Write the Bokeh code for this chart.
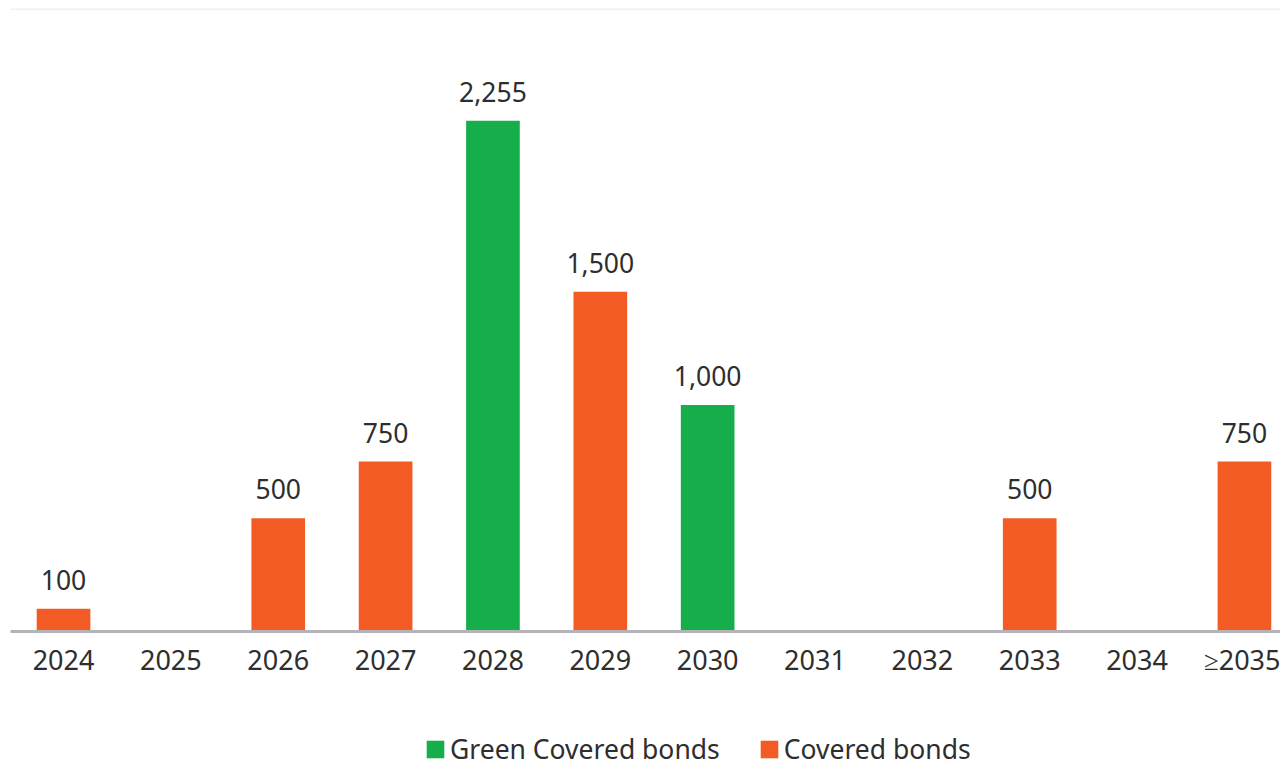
from bokeh.plotting import figure
from bokeh.layouts import column
from bokeh.models import Range1d, FixedTicker, Span, Legend, LegendItem, ColumnDataSource
from bokeh.embed import file_html
from bokeh.resources import INLINE
from bokeh.core.properties import value

categories = ["2024", "2025", "2026", "2027", "2028", "2029", "2030", "2031", "2032", "2033", "2034", "≥2035"]
green_covered = [0, 0, 0, 0, 2255, 0, 1000, 0, 0, 0, 0, 0]
covered = [100, 0, 500, 750, 0, 1500, 0, 0, 0, 500, 0, 750]
series_names = ["Green Covered bonds", "Covered bonds"]

GREEN = "#16AE4B"
ORANGE = "#F25C24"
FONT = "Noto Sans"
TXT = "#2e2e2e"

p = figure(width=1280, height=711, output_backend="svg", toolbar_location=None,
           x_range=Range1d(-0.494, 11.336), y_range=Range1d(0, 2750),
           min_border_left=10, min_border_right=0, min_border_top=8, min_border_bottom=80)

def series(vals):
    xs = [i for i, v in enumerate(vals) if v]
    ys = [v for v in vals if v]
    labels = [f"{v:,}" for v in ys]
    return ColumnDataSource(dict(x=xs, top=ys, label=labels))

src_g = series(green_covered)
src_c = series(covered)

p.vbar(x="x", top="top", width=0.5, source=src_g, fill_color=GREEN, line_color=None)
p.vbar(x="x", top="top", width=0.5, source=src_c, fill_color=ORANGE, line_color=None)

for s in (src_g, src_c):
    p.text(x="x", y="top", text="label", source=s, text_align="center", text_baseline="bottom",
           y_offset=-19, text_font=value(FONT), text_font_size="26.5px", text_color=TXT)

p.xaxis.ticker = FixedTicker(ticks=list(range(len(categories))))
p.xaxis.major_label_overrides = {i: c for i, c in enumerate(categories)}
p.xaxis.major_label_text_font = FONT
p.xaxis.major_label_text_font_size = "27px"
p.xaxis.major_label_text_color = TXT
p.xaxis.major_label_standoff = 3
p.xaxis.major_tick_line_color = None
p.xaxis.minor_tick_line_color = None
p.xaxis.axis_line_color = "#b3b3b8"
p.xaxis.axis_line_width = 3
p.yaxis.visible = False
p.xgrid.visible = False
p.ygrid.visible = False
p.outline_line_color = None

p.add_layout(Span(location=2750, dimension="width", line_color="#f0f0f0", line_width=3))

# legend strip below the chart
lf = figure(width=1280, height=56, output_backend="svg", toolbar_location=None,
            x_range=Range1d(0, 1), y_range=Range1d(0, 1),
            min_border_left=0, min_border_right=0, min_border_top=0, min_border_bottom=0)
lf.axis.visible = False
lf.grid.visible = False
lf.outline_line_color = None
lg = lf.vbar(x=[0.5], top=[0], width=0.1, fill_color=GREEN, line_color=None)
lc = lf.vbar(x=[0.5], top=[0], width=0.1, fill_color=ORANGE, line_color=None)
legend = Legend(items=[LegendItem(label=series_names[0], renderers=[lg]),
                       LegendItem(label=series_names[1], renderers=[lc])],
                orientation="horizontal", location=(414, 0),
                label_text_font=FONT, label_text_font_size="26.5px", label_text_color=TXT,
                glyph_width=22, glyph_height=22, spacing=38, padding=0, margin=0,
                label_standoff=4, border_line_color=None, background_fill_alpha=0)
lf.add_layout(legend)

layout = column(p, lf, spacing=0)
open("out.html", "w").write(file_html(layout, INLINE))
